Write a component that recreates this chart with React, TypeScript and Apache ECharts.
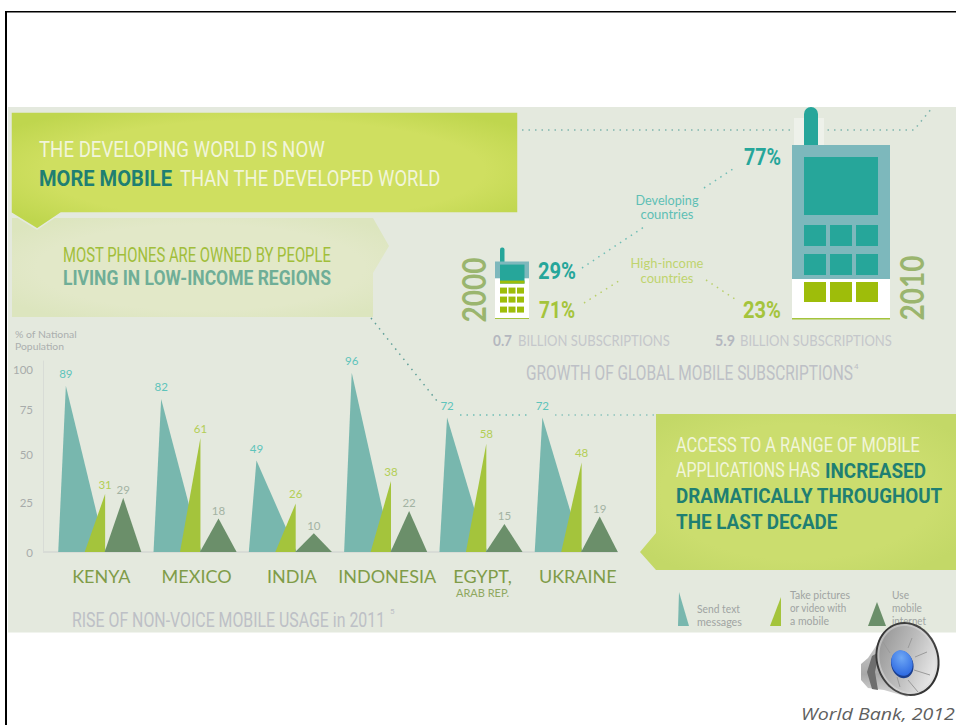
import React, { useEffect, useRef } from "react";
import * as echarts from "echarts";

// Non-voice usage, % of national population
const countries = ["KENYA", "MEXICO", "INDIA", "INDONESIA", "EGYPT,", "UKRAINE"];
const sendText = [89, 82, 49, 96, 72, 72];
const takePictures = [31, 61, 26, 38, 58, 48];
const mobileInternet = [29, 18, 10, 22, 15, 19];

// Global subscriptions
const years = [2000, 2010];
const developingShare = [29, 77];
const highIncomeShare = [71, 23];
const billions = ["0.7", "5.9"];
const phoneHeightPct = [33, 100];

const NARROW = '"Liberation Sans Narrow", Roboto, sans-serif';
const SANS = 'Lato, "Open Sans", sans-serif';
const TEAL = "#78B7AE";
const LIME = "#A4C43C";
const MOSS = "#6B8F6A";
const PHONE_TEAL = "#26A69A";
const PHONE_SHELL = "#7DB8BC";
const KEY_LIME = "#9EBD0A";
const DEEP = "#1F7F72";
const GREY = "#BDC0C6";

const measureCtx = document.createElement("canvas").getContext("2d")!;

// Text whose width is fitted to a target by horizontal scaling
function label(text: string, x: number, y: number, size: number, fill: string, width?: number, o: any = {}) {
  const family = o.family || NARROW;
  const weight = o.weight || "normal";
  const style = o.italic ? "italic" : "normal";
  measureCtx.font = `${style} ${weight} ${size}px ${family}`;
  const scaleX = width ? width / measureCtx.measureText(text).width : 1;
  return {
    type: "text",
    x,
    y,
    scaleX,
    rotation: o.rotation || 0,
    style: {
      text,
      fill,
      fontFamily: family,
      fontSize: size,
      fontWeight: weight,
      fontStyle: style,
      textAlign: o.align || "left",
      textVerticalAlign: "middle",
    },
  };
}

function poly(points: number[][], fill: any, extra: any = {}) {
  return { type: "polygon", shape: { points }, style: { fill, ...extra } };
}

function dots(points: number[][], stroke: string) {
  return {
    type: "polyline",
    shape: { points },
    style: { stroke, fill: "none", lineWidth: 1.5, lineDash: [1.5, 5] },
  };
}

function soft(inner: string, outer: string) {
  return {
    type: "radial",
    x: 0.5,
    y: 0.5,
    r: 0.62,
    colorStops: [
      { offset: 0, color: inner },
      { offset: 0.7, color: inner },
      { offset: 1, color: outer },
    ],
  };
}

function rect(x: number, y: number, w: number, h: number, fill: any, extra: any = {}) {
  return { type: "rect", shape: { x, y, width: w, height: h, ...extra }, style: { fill } };
}

function diagonal(stops: [number, string][]) {
  return {
    type: "linear",
    x: 0,
    y: 0,
    x2: 1,
    y2: 1,
    colorStops: stops.map(([offset, color]) => ({ offset, color })),
  };
}

function speakerDisc(rx: number, ry: number, fill: any) {
  return {
    type: "ellipse",
    x: 907.5,
    y: 659,
    rotation: 0.3,
    shape: { cx: 0, cy: 0, rx, ry },
    style: { fill },
  };
}

function tickStyle(padding: number[]) {
  return { fontFamily: SANS, fontSize: 11.5, color: "#A8ACAB", padding };
}

function triangleSeries(
  name: string,
  values: number[],
  base: [number, number],
  apex: number,
  fill: string,
  labelFill: string,
  labelGap: number,
) {
  return {
    type: "custom",
    name,
    xAxisIndex: 0,
    yAxisIndex: 0,
    data: values.map((v, i) => [i, v]),
    encode: { x: 0, y: 1 },
    renderItem: (_: any, api: any) => {
      const value = api.value(1);
      const [cx, top] = api.coord([api.value(0), value]);
      const [, floor] = api.coord([api.value(0), 0]);
      const band = api.size([1, 0])[0];
      const at = (f: number) => cx + f * band;
      return {
        type: "group",
        children: [
          {
            type: "polygon",
            shape: { points: [[at(base[0]), floor], [at(apex), top], [at(base[1]), floor]] },
            style: { fill },
          },
          {
            type: "text",
            style: {
              text: String(value),
              x: at(apex),
              y: top - labelGap,
              fill: labelFill,
              fontFamily: SANS,
              fontSize: 11.5,
              textAlign: "center",
              textVerticalAlign: "middle",
            },
          },
        ],
      };
    },
  };
}

// Phone body: the shell takes the developing-world share of the height
function phoneSeries() {
  return {
    type: "custom",
    name: "Subscriptions",
    xAxisIndex: 1,
    yAxisIndex: 1,
    data: years.map((y, i) => [y, phoneHeightPct[i], developingShare[i]]),
    encode: { x: 0, y: 1 },
    renderItem: (p: any, api: any) => {
      const [cx, top] = api.coord([api.value(0), api.value(1)]);
      const [, bottom] = api.coord([api.value(0), 0]);
      const h = bottom - top;
      const split = top + (h * api.value(2)) / 100;
      const children: any[] = [];
      if (p.dataIndex === 0) {
        const l = cx - 17;
        children.push(
          rect(l + 5, top - 14, 4.5, 16, PHONE_TEAL, { r: 2 }),
          rect(l, split, 34, bottom - split, "#FFFFFF"),
          rect(l, top, 34, split - top, PHONE_SHELL),
          rect(l + 5, top + 3, 24.5, 19, PHONE_TEAL),
          rect(l + 5, top + 19, 24.5, 3, KEY_LIME),
          rect(l, bottom - 1, 34, 1, LIME),
        );
        [26, 35, 45].forEach((dy) =>
          [5, 13.5, 22].forEach((dx) => children.push(rect(l + dx, top + dy, 7, 6, KEY_LIME))),
        );
      } else {
        const l = cx - 49;
        children.push(
          rect(l + 2, top - 27, 30, 27, "#EEF1EA"),
          rect(l + 12, top - 38, 14, 40, PHONE_TEAL, { r: [7, 7, 0, 0] }),
          rect(l, split, 98, bottom - split, "#FFFFFF"),
          rect(l, top, 98, split - top, PHONE_SHELL),
          rect(l + 12, top + 12, 74, 58, PHONE_TEAL),
          rect(l, bottom - 1, 98, 1.5, LIME),
        );
        [12, 38, 64].forEach((dx) => {
          children.push(rect(l + dx, top + 80, 22, 21, PHONE_TEAL));
          children.push(rect(l + dx, top + 109, 22, 21, PHONE_TEAL));
          children.push(rect(l + dx, top + 137, 22, 20, KEY_LIME));
        });
      }
      return { type: "group", children };
    },
  };
}

function buildGraphic() {
  const els: any[] = [];
  // slide frame and panel
  els.push(rect(5, 11, 951, 1.6, "#000000"), rect(5, 11, 2, 714, "#000000"));
  els.push(rect(8, 107, 948, 525.5, "#E4E9DE"));

  // connector dots
  els.push(dots([[522, 130], [914, 130], [932, 108]], "#7FB5AE"));
  els.push(dots([[582, 268], [644, 227]], "#6FBDB5"));
  els.push(dots([[704, 188], [736, 167]], "#6FBDB5"));
  els.push(dots([[584, 303], [622, 279]], "#B9CF6A"));
  els.push(dots([[706, 280], [738, 301]], "#B9CF6A"));
  els.push(dots([[371, 318], [437, 401]], "#5F9F98"));
  els.push(dots([[460, 415], [528, 415]], "#6FBDB5"));
  els.push(dots([[555, 415], [656, 415]], "#8CC4BD"));

  // callouts
  els.push(
    poly([[12, 218], [373, 218], [389, 246], [373, 273], [373, 317], [12, 317]], soft("#E2E8C8", "#DCE5BE")),
  );
  els.push(
    poly([[11, 112], [518, 112], [518, 213], [61, 213], [37, 229], [11, 213]], soft("#CFDF60", "#BFD64E"), {
      stroke: "#E4E9DE",
      lineWidth: 1.5,
    }),
  );
  els.push(
    poly([[656, 414], [956, 414], [956, 570], [656, 570], [640, 552], [656, 533]], soft("#CBDD6E", "#C3D867")),
  );

  // callout headings
  els.push(label("THE DEVELOPING WORLD IS NOW", 39, 149, 22, "#F1F5DA", 286));
  els.push(label("MORE MOBILE", 39, 178, 22, DEEP, 133, { weight: "bold" }));
  els.push(label("THAN THE DEVELOPED WORLD", 180, 178, 22, "#F1F5DA", 261));
  els.push(label("MOST PHONES ARE OWNED BY PEOPLE", 63, 255, 20, "#A1BE3A", 268));
  els.push(label("LIVING IN LOW-INCOME REGIONS", 63, 279, 20, "#6FAE97", 268, { weight: "bold" }));
  els.push(label("ACCESS TO A RANGE OF MOBILE", 676, 445, 21, "#F1F5DA", 244));
  els.push(label("APPLICATIONS HAS", 676, 470.5, 21, "#F1F5DA", 144));
  els.push(label("INCREASED", 825, 470.5, 21, DEEP, 101, { weight: "bold" }));
  els.push(label("DRAMATICALLY THROUGHOUT", 676, 496, 21, DEEP, 267, { weight: "bold" }));
  els.push(label("THE LAST DECADE", 676, 522, 21, DEEP, 162, { weight: "bold" }));

  // subscriptions panel
  els.push(label("2000", 473, 290, 32, "#9AB56E", 65, { weight: "bold", rotation: Math.PI / 2, align: "center", family: SANS }));
  els.push(label("2010", 911, 288, 32, "#9AB56E", 65, { weight: "bold", rotation: Math.PI / 2, align: "center", family: SANS }));
  els.push(label(`${developingShare[0]}%`, 538, 271, 23, PHONE_TEAL, 38, { weight: "bold" }));
  els.push(label(`${highIncomeShare[0]}%`, 539, 310, 23, LIME, 36, { weight: "bold" }));
  els.push(label(`${developingShare[1]}%`, 744, 157, 23, PHONE_TEAL, 37, { weight: "bold" }));
  els.push(label(`${highIncomeShare[1]}%`, 743, 310, 23, LIME, 38, { weight: "bold" }));
  els.push(label("Developing", 667, 199.5, 13, "#5FBFB5", 63, { family: SANS, align: "center" }));
  els.push(label("countries", 667, 214.5, 13, "#5FBFB5", 53, { family: SANS, align: "center" }));
  els.push(label("High-income", 667, 263, 13, "#BFD46E", 73, { family: SANS, align: "center" }));
  els.push(label("countries", 667, 278, 13, "#BFD46E", 53, { family: SANS, align: "center" }));
  els.push(label(billions[0], 493, 340, 16, "#B4B7BF", 19, { weight: "bold", family: SANS }));
  els.push(label("BILLION SUBSCRIPTIONS", 518, 340, 15, "#C4C7CB", 152, { family: SANS }));
  els.push(label(billions[1], 715, 339.5, 16, "#B4B7BF", 20, { weight: "bold", family: SANS }));
  els.push(label("BILLION SUBSCRIPTIONS", 740, 340, 15, "#C4C7CB", 152, { family: SANS }));
  els.push(label("GROWTH OF GLOBAL MOBILE SUBSCRIPTIONS", 526, 373, 21, GREY, 327));
  els.push(label("4", 854, 366, 8, GREY));

  // usage chart captions
  els.push(label("% of National", 15, 334, 9.5, "#ABAFAE", 62, { family: SANS }));
  els.push(label("Population", 15, 346, 9.5, "#ABAFAE", 49, { family: SANS }));
  els.push(rect(43, 551, 575, 2, "#D8DCD6"));
  els.push(label("RISE OF NON-VOICE MOBILE USAGE in 2011", 72, 620, 21, GREY, 313));
  els.push(label("5", 390, 611, 8, GREY));

  // key
  els.push(poly([[678, 626], [679, 592], [689, 626]], TEAL));
  els.push(poly([[770, 626], [781, 597], [781, 626]], LIME));
  els.push(poly([[868, 626], [877, 602], [886, 626]], MOSS));
  const key = "#A0A4A2";
  els.push(label("Send text", 697, 609, 10.5, key, 43, { family: SANS }));
  els.push(label("messages", 697, 622, 10.5, key, 45, { family: SANS }));
  els.push(label("Take pictures", 790, 595, 10.5, key, 60, { family: SANS }));
  els.push(label("or video with", 790, 608, 10.5, key, 57, { family: SANS }));
  els.push(label("a mobile", 790, 621, 10.5, key, 39, { family: SANS }));
  els.push(label("Use", 892, 595, 10.5, key, 17, { family: SANS }));
  els.push(label("mobile", 892, 608, 10.5, key, 30, { family: SANS }));
  els.push(label("internet", 892, 621, 10.5, key, 34, { family: SANS }));

  // speaker badge: barrel, cone, rim, face, spokes, dome
  els.push(
    poly([[880, 640], [868, 658], [861, 664], [861, 680], [868, 688], [884, 690], [908, 697]], {
      type: "linear",
      x: 0,
      y: 0,
      x2: 0,
      y2: 1,
      colorStops: [
        { offset: 0, color: "#D2D2D2" },
        { offset: 0.6, color: "#A8A8A8" },
        { offset: 1, color: "#DADADA" },
      ],
    }),
  );
  els.push(poly([[872, 656], [867, 672], [872, 689], [878, 690], [875, 672], [879, 652]], "#6E6E6E"));
  els.push(speakerDisc(31.5, 37.5, diagonal([[0, "#2E2E2E"], [0.6, "#4A4A4A"], [1, "#1F1F1F"]])));
  els.push(speakerDisc(29.5, 35.5, diagonal([[0, "#B5B5B5"], [1, "#E6E6E6"]])));
  els.push(speakerDisc(27.5, 33.5, diagonal([[0, "#8E8E8E"], [0.5, "#BDBDBD"], [1, "#F8F8F8"]])));
  [
    [[908, 648], [912, 638]],
    [[915, 657], [927, 652]],
    [[914, 670], [930, 675]],
    [[908, 680], [918, 692]],
    [[897, 677], [900, 687]],
    [[890, 653], [883, 642]],
  ].forEach((seg) =>
    els.push({
      type: "line",
      shape: { x1: seg[0][0], y1: seg[0][1], x2: seg[1][0], y2: seg[1][1] },
      style: { stroke: "#9A9A9A", lineWidth: 1 },
    }),
  );
  els.push({
    type: "ellipse",
    x: 902.3,
    y: 664.5,
    rotation: 0.3,
    shape: { cx: 0, cy: 0, rx: 11, ry: 14 },
    style: { fill: "#1B3F8F" },
  });
  els.push({
    type: "ellipse",
    x: 902,
    y: 663,
    rotation: 0.3,
    shape: { cx: 0, cy: 0, rx: 10.5, ry: 13 },
    style: {
      fill: {
        type: "radial",
        x: 0.55,
        y: 0.3,
        r: 0.75,
        colorStops: [
          { offset: 0, color: "#6FA8F5" },
          { offset: 1, color: "#2A66E0" },
        ],
      },
    },
  });
  els.push(label("World Bank, 2012", 801, 713, 17, "#5F5F5F", 154, { family: '"Open Sans", sans-serif', italic: true }));
  return els;
}

export default function App() {
  const ref = useRef<HTMLDivElement>(null);
  useEffect(() => {
    const chart = echarts.init(ref.current!, undefined, { renderer: "svg" });
    chart.setOption({
      animation: false,
      backgroundColor: "#FFFFFF",
      grid: [
        { left: 53.65, top: 361, width: 571.8, height: 191 },
        { left: 512, top: 145, width: 329, height: 174 },
      ],
      xAxis: [
        {
          type: "category",
          data: countries,
          gridIndex: 0,
          z: 5,
          axisLine: { show: false },
          axisTick: { show: false },
          axisLabel: {
            interval: 0,
            margin: 15,
            fontFamily: SANS,
            fontSize: 18,
            color: "#7F9C48",
            verticalAlign: "top",
            formatter: (v: string) => (v === "EGYPT," ? `${v}\n{sub|ARAB REP.}` : v),
            rich: { sub: { fontFamily: SANS, fontSize: 11, color: "#8FA860", lineHeight: 14 } },
          },
        },
        { type: "value", min: 2000, max: 2010, gridIndex: 1, show: false },
      ],
      yAxis: [
        {
          type: "value",
          min: 0,
          max: 102.3,
          interval: 25,
          gridIndex: 0,
          offset: 10.65,
          z: 5,
          splitLine: { show: false },
          axisTick: { show: false },
          axisLine: { show: true, lineStyle: { color: "#D8DCD6", width: 1 } },
          axisLabel: {
            showMaxLabel: false,
            margin: 10,
            fontFamily: SANS,
            fontSize: 11.5,
            color: "#A8ACAB",
            // the printed ticks sit slightly off their exact scale positions
            formatter: (v: number) => `{t${v}|${v}}`,
            rich: {
              t0: tickStyle([0, 0, 0, 0]),
              t25: tickStyle([0, 0, 6, 0]),
              t50: tickStyle([0, 0, 8, 0]),
              t75: tickStyle([0, 0, 4, 0]),
              t100: tickStyle([8, 0, 0, 0]),
            },
          },
        },
        { type: "value", min: 0, max: 100, gridIndex: 1, show: false },
      ],
      graphic: { elements: buildGraphic() },
      series: [
        triangleSeries("Send text messages", sendText, [-0.452, 0.05], -0.372, TEAL, "#5EC4BB", 12),
        triangleSeries("Take pictures or video with a mobile", takePictures, [-0.174, 0.04], 0.04, LIME, "#B3CE55", 10),
        triangleSeries("Use mobile internet", mobileInternet, [0.035, 0.42], 0.23, MOSS, "#A3B3A3", 8),
        phoneSeries(),
      ],
    });
    return () => chart.dispose();
  }, []);
  return <div ref={ref} style={{ position: "fixed", left: 0, top: 0, width: 956, height: 725 }} />;
}
